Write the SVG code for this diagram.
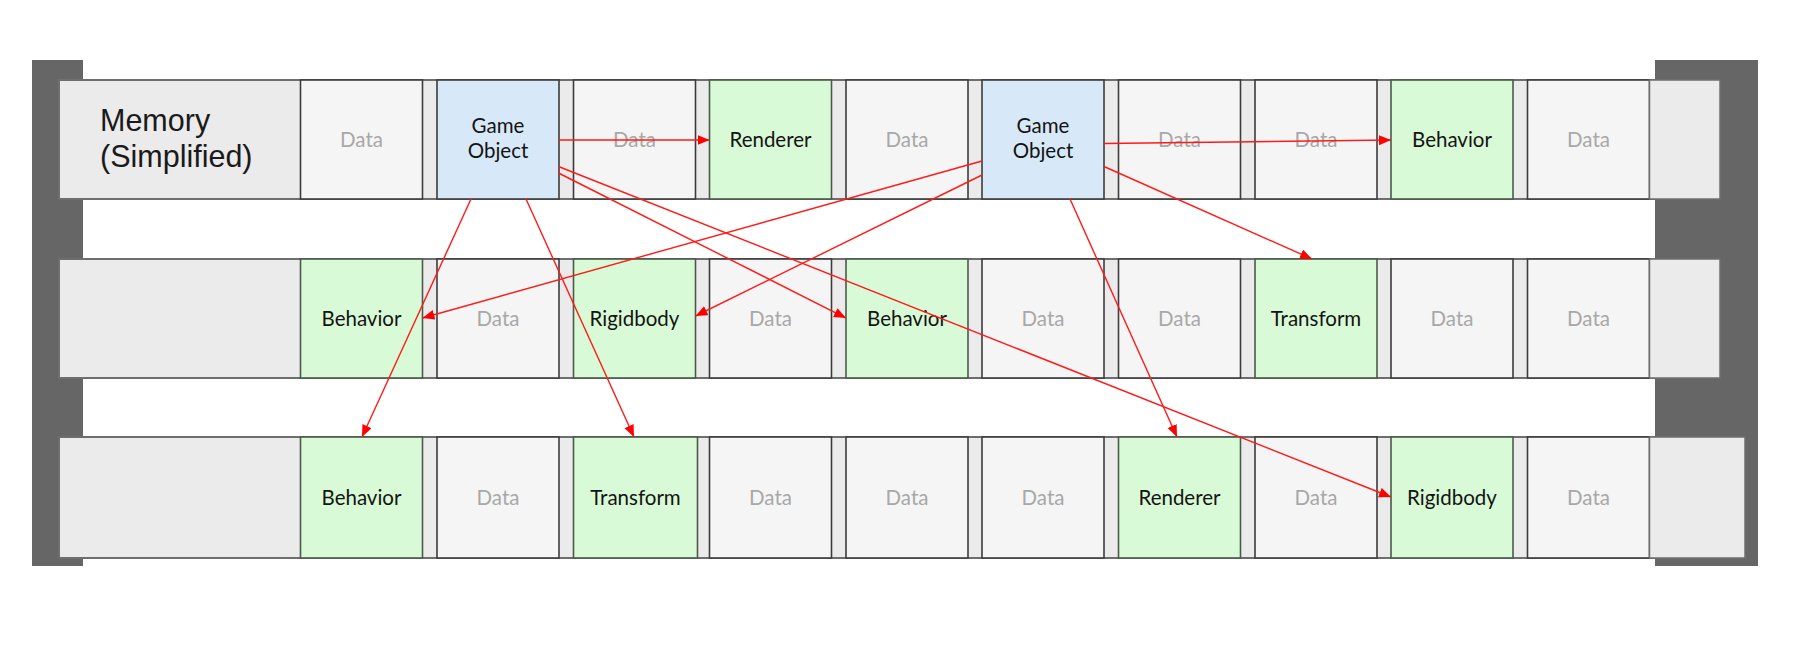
<svg xmlns="http://www.w3.org/2000/svg" width="1794" height="664" viewBox="0 0 1794 664">
<style>
.frame{fill:#666666}
.row{fill:#ebebeb;stroke:#6e6e6e;stroke-width:2}
.end{fill:#ebebeb;stroke:#6e6e6e;stroke-width:1.5}
.data{fill:#f5f5f5;stroke:#3c3c3c;stroke-width:1.6}
.comp{fill:#d9fad6;stroke:#4a5a4a;stroke-width:1.6}
.go{fill:#d7e9f8;stroke:#3c3c3c;stroke-width:1.6}
text{font-family:Lato,"Open Sans","Liberation Sans",sans-serif;font-size:20.5px;text-anchor:middle}
.dt{fill:#a8a8a8}
.ct{fill:#141414}
.mem{font-family:"Liberation Sans",Arial,sans-serif;font-size:30.5px;text-anchor:start;fill:#1a1a1a}
.arr{stroke:#ff1a1a;stroke-width:1.4;fill:none;marker-end:url(#ah)}
</style>
<defs>
<marker id="ah" markerUnits="userSpaceOnUse" markerWidth="13" markerHeight="11" refX="12" refY="5" orient="auto">
<path d="M0,0 L12,5 L0,10 z" fill="#ff0000"/>
</marker>
</defs>
<rect width="1794" height="664" fill="#ffffff"/>
<g id="frame">
<rect class="frame" x="32" y="60" width="51" height="506"/>
<rect class="frame" x="1655" y="60" width="103" height="506"/>
</g>
<g id="row1">
<rect class="row" x="59" y="80" width="1661" height="119"/>
<g id="label"><text class="mem" x="100" y="131">Memory</text><text class="mem" x="100" y="167">(Simplified)</text></g>
<g id="r1c0"><rect class="data" x="300.5" y="80" width="122" height="119"/><text class="dt" x="361.5" y="146.5">Data</text></g>
<g id="r1c1"><rect class="go" x="437" y="80" width="122" height="119"/><text class="ct" x="498" y="133">Game</text><text class="ct" x="498" y="158">Object</text></g>
<g id="r1c2"><rect class="data" x="573.5" y="80" width="122" height="119"/><text class="dt" x="634.5" y="146.5">Data</text></g>
<g id="r1c3"><rect class="comp" x="709.5" y="80" width="122" height="119"/><text class="ct" x="770.5" y="146.5">Renderer</text></g>
<g id="r1c4"><rect class="data" x="846" y="80" width="122" height="119"/><text class="dt" x="907" y="146.5">Data</text></g>
<g id="r1c5"><rect class="go" x="982" y="80" width="122" height="119"/><text class="ct" x="1043" y="133">Game</text><text class="ct" x="1043" y="158">Object</text></g>
<g id="r1c6"><rect class="data" x="1118.5" y="80" width="122" height="119"/><text class="dt" x="1179.5" y="146.5">Data</text></g>
<g id="r1c7"><rect class="data" x="1255" y="80" width="122" height="119"/><text class="dt" x="1316" y="146.5">Data</text></g>
<g id="r1c8"><rect class="comp" x="1391" y="80" width="122" height="119"/><text class="ct" x="1452" y="146.5">Behavior</text></g>
<g id="r1c9"><rect class="data" x="1527.5" y="80" width="122" height="119"/><text class="dt" x="1588.5" y="146.5">Data</text></g>
<rect class="end" x="1649.5" y="80" width="70.5" height="119"/>
</g>
<g id="row2">
<rect class="row" x="59" y="259" width="1661" height="119"/>
<g id="r2c0"><rect class="comp" x="300.5" y="259" width="122" height="119"/><text class="ct" x="361.5" y="325.5">Behavior</text></g>
<g id="r2c1"><rect class="data" x="437" y="259" width="122" height="119"/><text class="dt" x="498" y="325.5">Data</text></g>
<g id="r2c2"><rect class="comp" x="573.5" y="259" width="122" height="119"/><text class="ct" x="634.5" y="325.5">Rigidbody</text></g>
<g id="r2c3"><rect class="data" x="709.5" y="259" width="122" height="119"/><text class="dt" x="770.5" y="325.5">Data</text></g>
<g id="r2c4"><rect class="comp" x="846" y="259" width="122" height="119"/><text class="ct" x="907" y="325.5">Behavior</text></g>
<g id="r2c5"><rect class="data" x="982" y="259" width="122" height="119"/><text class="dt" x="1043" y="325.5">Data</text></g>
<g id="r2c6"><rect class="data" x="1118.5" y="259" width="122" height="119"/><text class="dt" x="1179.5" y="325.5">Data</text></g>
<g id="r2c7"><rect class="comp" x="1255" y="259" width="122" height="119"/><text class="ct" x="1316" y="325.5">Transform</text></g>
<g id="r2c8"><rect class="data" x="1391" y="259" width="122" height="119"/><text class="dt" x="1452" y="325.5">Data</text></g>
<g id="r2c9"><rect class="data" x="1527.5" y="259" width="122" height="119"/><text class="dt" x="1588.5" y="325.5">Data</text></g>
<rect class="end" x="1649.5" y="259" width="70.5" height="119"/>
</g>
<g id="row3">
<rect class="row" x="59" y="437" width="1686" height="121"/>
<g id="r3c0"><rect class="comp" x="300.5" y="437" width="122" height="121"/><text class="ct" x="361.5" y="504.5">Behavior</text></g>
<g id="r3c1"><rect class="data" x="437" y="437" width="122" height="121"/><text class="dt" x="498" y="504.5">Data</text></g>
<g id="r3c2"><rect class="comp" x="573.5" y="437" width="124" height="121"/><text class="ct" x="635.5" y="504.5">Transform</text></g>
<g id="r3c3"><rect class="data" x="709.5" y="437" width="122" height="121"/><text class="dt" x="770.5" y="504.5">Data</text></g>
<g id="r3c4"><rect class="data" x="846" y="437" width="122" height="121"/><text class="dt" x="907" y="504.5">Data</text></g>
<g id="r3c5"><rect class="data" x="982" y="437" width="122" height="121"/><text class="dt" x="1043" y="504.5">Data</text></g>
<g id="r3c6"><rect class="comp" x="1118.5" y="437" width="122" height="121"/><text class="ct" x="1179.5" y="504.5">Renderer</text></g>
<g id="r3c7"><rect class="data" x="1255" y="437" width="122" height="121"/><text class="dt" x="1316" y="504.5">Data</text></g>
<g id="r3c8"><rect class="comp" x="1391" y="437" width="122" height="121"/><text class="ct" x="1452" y="504.5">Rigidbody</text></g>
<g id="r3c9"><rect class="data" x="1527.5" y="437" width="122" height="121"/><text class="dt" x="1588.5" y="504.5">Data</text></g>
<rect class="end" x="1649.5" y="437" width="95.5" height="121"/>
</g>
<g id="connectors">
<line class="arr" x1="558.5" y1="140" x2="709.5" y2="140"/>
<line class="arr" x1="558.5" y1="173" x2="846" y2="318"/>
<line class="arr" x1="558.5" y1="166.5" x2="1391" y2="497"/>
<line class="arr" x1="471" y1="199" x2="362" y2="437"/>
<line class="arr" x1="526" y1="199" x2="634" y2="437"/>
<line class="arr" x1="1104" y1="143.5" x2="1391" y2="140"/>
<line class="arr" x1="982" y1="161" x2="422.5" y2="318"/>
<line class="arr" x1="982" y1="175" x2="695.5" y2="316"/>
<line class="arr" x1="1104" y1="166.5" x2="1312" y2="259"/>
<line class="arr" x1="1070" y1="199" x2="1177" y2="437"/>
</g>
</svg>
